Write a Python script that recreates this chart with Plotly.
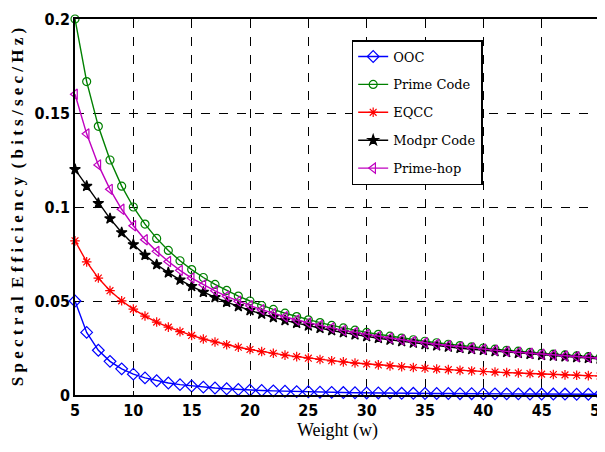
import plotly.graph_objects as go

weight = list(range(5, 51))

ooc = [0.05, 0.0333, 0.0238, 0.0179, 0.0139, 0.0111, 0.0091, 0.0076, 0.0064, 0.0055,
       0.0048, 0.0042, 0.0037, 0.0033, 0.0029, 0.0026, 0.0024, 0.0022, 0.0020, 0.0018,
       0.0017, 0.0015, 0.0014, 0.0013, 0.0012, 0.0011, 0.0011, 0.0010, 0.0009, 0.0009,
       0.0008, 0.0008, 0.0008, 0.0007, 0.0007, 0.0006, 0.0006, 0.0006, 0.0006, 0.0005,
       0.0005, 0.0005, 0.0005, 0.0004, 0.0004, 0.0004]

prime_code = [0.2, 0.1667, 0.1429, 0.125, 0.1111, 0.1, 0.0909, 0.0833, 0.0769, 0.0714,
              0.0667, 0.0625, 0.0588, 0.0556, 0.0526, 0.05, 0.0476, 0.0455, 0.0435, 0.0417,
              0.04, 0.0385, 0.0370, 0.0357, 0.0345, 0.0333, 0.0323, 0.0313, 0.0303, 0.0294,
              0.0286, 0.0278, 0.0270, 0.0263, 0.0256, 0.025, 0.0244, 0.0238, 0.0233, 0.0227,
              0.0222, 0.0217, 0.0213, 0.0208, 0.0204, 0.02]

eqcc = [0.0820, 0.0708, 0.0622, 0.0555, 0.0501, 0.0457, 0.0420, 0.0388, 0.0361, 0.0337,
        0.0317, 0.0298, 0.0282, 0.0267, 0.0254, 0.0242, 0.0231, 0.0222, 0.0212, 0.0204,
        0.0196, 0.0189, 0.0182, 0.0176, 0.0170, 0.0165, 0.0160, 0.0155, 0.0150, 0.0146,
        0.0142, 0.0138, 0.0135, 0.0131, 0.0128, 0.0125, 0.0122, 0.0119, 0.0117, 0.0114,
        0.0111, 0.0109, 0.0107, 0.0105, 0.0103, 0.0101]

modpr_code = [0.12, 0.1111, 0.1020, 0.0938, 0.0864, 0.08, 0.0744, 0.0694, 0.0651, 0.0612,
              0.0578, 0.0547, 0.0519, 0.0494, 0.0471, 0.045, 0.0431, 0.0413, 0.0397, 0.0382,
              0.0368, 0.0355, 0.0343, 0.0332, 0.0321, 0.0311, 0.0302, 0.0293, 0.0285, 0.0277,
              0.0269, 0.0262, 0.0256, 0.0249, 0.0243, 0.0238, 0.0232, 0.0227, 0.0222, 0.0217,
              0.0212, 0.0208, 0.0204, 0.0200, 0.0196, 0.0192]

prime_hop = [0.16, 0.1389, 0.1224, 0.1094, 0.0988, 0.09, 0.0826, 0.0764, 0.0710, 0.0663,
             0.0622, 0.0586, 0.0554, 0.0525, 0.0499, 0.0475, 0.0454, 0.0434, 0.0416, 0.0399,
             0.0384, 0.0370, 0.0357, 0.0344, 0.0333, 0.0322, 0.0312, 0.0303, 0.0294, 0.0285,
             0.0278, 0.0270, 0.0263, 0.0256, 0.0250, 0.0244, 0.0238, 0.0232, 0.0227, 0.0222,
             0.0217, 0.0213, 0.0208, 0.0204, 0.0200, 0.0196]

series = [
    ("OOC", ooc, "#0000ff", "diamond-open", 9),
    ("Prime Code", prime_code, "#008000", "circle-open", 8),
    ("EQCC", eqcc, "#ff0000", "asterisk-open", 8),
    ("Modpr Code", modpr_code, "#000000", "star", 8),
    ("Prime-hop", prime_hop, "#bf00bf", "triangle-left-open", 9),
]

fig = go.Figure()
for name, vals, color, sym, size in series:
    fig.add_trace(go.Scatter(
        x=weight, y=vals, mode="lines+markers", name=name, legendgroup=name,
        line=dict(color=color, width=1.4),
        marker=dict(symbol=sym, size=size, color=color,
                    line=dict(color=color, width=1.2)),
        cliponaxis=False,
    ))

tick_font = dict(family="DejaVu Sans Condensed", size=16, color="black", weight="bold")
serif = "Liberation Serif"

fig.update_layout(
    width=597, height=444,
    margin=dict(l=67, r=5, t=11, b=57),
    paper_bgcolor="white", plot_bgcolor="white",
    font=dict(family=serif, size=15, color="black"),
    showlegend=True,
    legend=dict(
        x=0.527, y=0.944, xanchor="left", yanchor="top",
        bgcolor="white", bordercolor="black", borderwidth=1.5,
        font=dict(family="DejaVu Serif", size=13, color="black", weight="normal", style="normal"),
        itemwidth=30, tracegroupgap=8,
    ),
    xaxis=dict(
        range=[5, 50], tickvals=[5, 10, 15, 20, 25, 30, 35, 40, 45, 50],
        showline=True, linecolor="black", linewidth=1.5, mirror=True,
        showgrid=True, gridcolor="black", griddash="dash", gridwidth=1,
        ticks="inside", ticklen=4, tickcolor="black",
        tickfont=tick_font, zeroline=False, automargin=False,
        ticklabeloverflow="allow",
        title=dict(text="Weight (w)", font=dict(family=serif, size=18, color="black"), standoff=4),
    ),
    yaxis=dict(
        range=[0, 0.2], tickvals=[0, 0.05, 0.1, 0.15, 0.2],
        ticktext=["0", "0.05", "0.1", "0.15", "0.2"],
        showline=True, linecolor="black", linewidth=1.5, mirror=True,
        showgrid=True, gridcolor="black", griddash="dash", gridwidth=1,
        ticks="inside", ticklen=4, tickcolor="black",
        tickfont=tick_font, zeroline=False, automargin=False,
        ticklabeloverflow="allow",
        title=dict(text="S p e c t r a l  E f f i c i e n c y  ( b i t s / s e c / H z )",
                   font=dict(family=serif, size=17, color="black", weight="bold"), standoff=10),
    ),
)

fig.write_html("out.html")
